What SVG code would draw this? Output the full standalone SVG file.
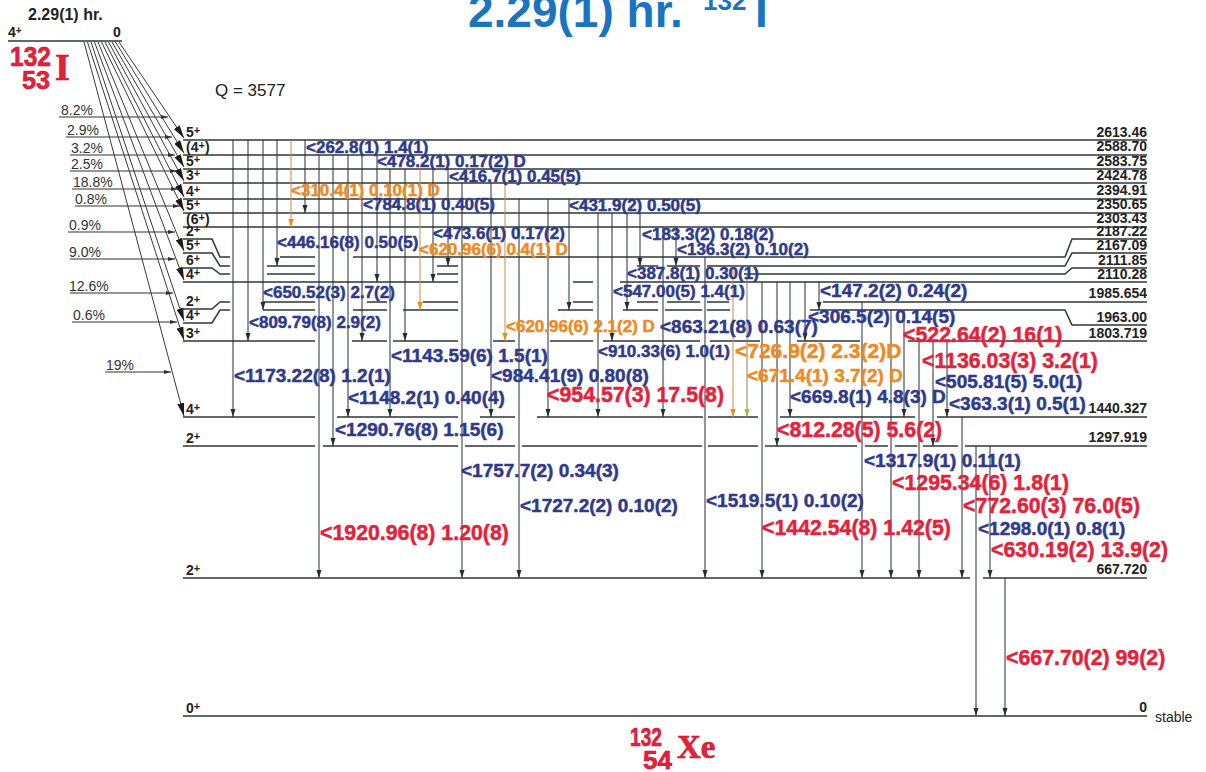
<svg xmlns="http://www.w3.org/2000/svg" width="1206" height="772" viewBox="0 0 1206 772">
<defs>
<style>
.lv{stroke:#2b3838;stroke-width:1.5;fill:none}
.g{stroke:#243030;stroke-width:1;marker-end:url(#ah)}
.go{stroke:#c98a4a;stroke-width:1;marker-end:url(#aho)}
.gg{stroke:#8a8060;stroke-width:1;marker-end:url(#ahg)}
.bt{stroke:#222;stroke-width:0.9;marker-end:url(#bh)}
.pa{stroke:#333;stroke-width:1.1;marker-end:url(#ph)}
.t{font-family:"Liberation Sans",Arial,sans-serif;font-weight:bold;stroke-width:0.5px;stroke-linejoin:round}
.bl{fill:#303a8a;stroke:#303a8a;font-size:17px}
.bl19{fill:#303a8a;stroke:#303a8a;font-size:19px}
.or{fill:#ee8a1f;stroke:#ee8a1f;font-size:17px}
.or19{fill:#ee8a1f;stroke:#ee8a1f;font-size:19px}
.or21{fill:#ee8a1f;stroke:#ee8a1f;font-size:21px}
.rd{fill:#e3223c;stroke:#e3223c;font-size:21.3px}
.en{font-family:"Liberation Sans",Arial,sans-serif;font-weight:bold;font-size:14px;fill:#222;text-anchor:end}
.sp{font-family:"Liberation Sans",Arial,sans-serif;font-weight:bold;font-size:14px;fill:#222}
.pc{font-family:"Liberation Sans",Arial,sans-serif;font-size:14px;fill:#333}
.nuc{font-family:"Liberation Sans",Arial,sans-serif;font-weight:bold;fill:#e3223c;stroke:#c8102e;stroke-width:0.6px}
.nucs{font-family:"Liberation Serif","Times New Roman",serif;font-weight:bold;fill:#e3223c;stroke:#c8102e;stroke-width:0.6px}
</style>
<marker id="ah" markerUnits="userSpaceOnUse" viewBox="0 0 8 6" markerWidth="8" markerHeight="6" refX="8" refY="3" orient="auto"><path d="M0,0.5 L8,3 L0,5.5 z" fill="#243030"/></marker>
<marker id="aho" markerUnits="userSpaceOnUse" viewBox="0 0 8 6" markerWidth="8" markerHeight="6" refX="8" refY="3" orient="auto"><path d="M0,0.3 L8,3 L0,5.7 z" fill="#f08a1a"/></marker>
<marker id="ahg" markerUnits="userSpaceOnUse" viewBox="0 0 8 6" markerWidth="8" markerHeight="6" refX="8" refY="3" orient="auto"><path d="M0,0.3 L8,3 L0,5.7 z" fill="#8dc63f"/></marker>
<marker id="bh" markerUnits="userSpaceOnUse" viewBox="0 0 13 7" markerWidth="13" markerHeight="7" refX="13" refY="3.5" orient="auto"><path d="M0,0 L13,3.5 L0,7 z" fill="#1a1a1a"/></marker>
<marker id="ph" markerUnits="userSpaceOnUse" viewBox="0 0 7 4" markerWidth="7" markerHeight="4" refX="7" refY="2" orient="auto"><path d="M0,0 L7,2 L0,4 z" fill="#333"/></marker>
</defs>
<rect width="1206" height="772" fill="#fff"/>

<g id="title">
<text x="468" y="27" font-family="Liberation Sans,Arial,sans-serif" font-weight="bold" font-size="46" fill="#1b74bf">2.29(1) hr.</text>
<text x="703" y="10" font-family="Liberation Sans,Arial,sans-serif" font-weight="bold" font-size="26" fill="#1b74bf">132</text>
<text x="755" y="27" font-family="Liberation Sans,Arial,sans-serif" font-weight="bold" font-size="46" fill="#1b74bf">I</text>
</g>

<g id="parent">
<text x="28" y="20" font-family="Liberation Sans,Arial,sans-serif" font-weight="bold" font-size="16" fill="#222">2.29(1) hr.</text>
<text x="8" y="37" class="sp" font-size="13">4<tspan font-size="10" dy="-3">+</tspan></text>
<text x="113" y="37" class="sp" font-size="13">0</text>
<path d="M8,41 H122" class="lv"/>
<text x="10" y="66" class="nuc" font-size="27" textLength="41" lengthAdjust="spacingAndGlyphs">132</text>
<text x="22" y="89" class="nuc" font-size="26" textLength="28" lengthAdjust="spacingAndGlyphs">53</text>
<text x="55" y="80" class="nucs" font-size="38">I</text>
<text x="215" y="96" font-family="Liberation Sans,Arial,sans-serif" font-size="17" fill="#222">Q = 3577</text>
</g>

<g id="beta-feeding">
<line x1="84" y1="42" x2="184" y2="416" class="bt"/>
<line x1="87.5" y1="42" x2="184" y2="340" class="bt"/>
<line x1="91" y1="42" x2="184" y2="321" class="bt"/>
<line x1="94.5" y1="42" x2="184" y2="280" class="bt"/>
<line x1="98" y1="42" x2="184" y2="251" class="bt"/>
<line x1="101.5" y1="42" x2="184" y2="211" class="bt"/>
<line x1="105" y1="42" x2="184" y2="197" class="bt"/>
<line x1="108.5" y1="42" x2="184" y2="181" class="bt"/>
<line x1="112" y1="42" x2="184" y2="167" class="bt"/>
<line x1="115.5" y1="42" x2="184" y2="153" class="bt"/>
<line x1="119" y1="42" x2="184" y2="138" class="bt"/>
<line x1="59" y1="117" x2="168" y2="117" class="pa"/>
<line x1="66" y1="137" x2="172" y2="137" class="pa"/>
<line x1="70" y1="155" x2="175" y2="155" class="pa"/>
<line x1="70" y1="171" x2="177" y2="171" class="pa"/>
<line x1="72" y1="189" x2="178" y2="189" class="pa"/>
<line x1="75" y1="206" x2="180" y2="206" class="pa"/>
<line x1="68" y1="232" x2="175" y2="232" class="pa"/>
<line x1="70" y1="259" x2="175" y2="259" class="pa"/>
<line x1="70" y1="293" x2="173" y2="293" class="pa"/>
<line x1="72" y1="322" x2="177" y2="322" class="pa"/>
<line x1="105" y1="372" x2="171" y2="372" class="pa"/>
<text x="61" y="115" class="pc">8.2%</text>
<text x="67" y="135" class="pc">2.9%</text>
<text x="71" y="153" class="pc">3.2%</text>
<text x="71" y="169" class="pc">2.5%</text>
<text x="73" y="187" class="pc">18.8%</text>
<text x="75" y="204" class="pc">0.8%</text>
<text x="69" y="230" class="pc">0.9%</text>
<text x="69" y="257" class="pc">9.0%</text>
<text x="69" y="291" class="pc">12.6%</text>
<text x="73" y="320" class="pc">0.6%</text>
<text x="106" y="370" class="pc">19%</text>
</g>

<g id="levels">
<g id="lvl-2613"><path class="lv" d="M183,140 H1147"/><text class="sp" x="186" y="137">5<tspan font-size="11" dy="-3">+</tspan></text><text class="en" x="1147" y="137">2613.46</text></g>
<g id="lvl-2588"><path class="lv" d="M183,155 H1147"/><text class="sp" x="186" y="152">(4<tspan font-size="11" dy="-3">+</tspan><tspan dy="3">)</tspan></text><text class="en" x="1147" y="151">2588.70</text></g>
<g id="lvl-2583"><path class="lv" d="M183,169 H1147"/><text class="sp" x="186" y="166">5<tspan font-size="11" dy="-3">+</tspan></text><text class="en" x="1147" y="166">2583.75</text></g>
<g id="lvl-2424"><path class="lv" d="M183,183 H1147"/><text class="sp" x="186" y="180">3<tspan font-size="11" dy="-3">+</tspan></text><text class="en" x="1147" y="180">2424.78</text></g>
<g id="lvl-2394"><path class="lv" d="M183,199 H1147"/><text class="sp" x="186" y="196">4<tspan font-size="11" dy="-3">+</tspan></text><text class="en" x="1147" y="195">2394.91</text></g>
<g id="lvl-2350"><path class="lv" d="M183,213 H1147"/><text class="sp" x="186" y="210">5<tspan font-size="11" dy="-3">+</tspan></text><text class="en" x="1147" y="209">2350.65</text></g>
<g id="lvl-2303"><path class="lv" d="M183,227 H1147"/><text class="sp" x="186" y="224">(6<tspan font-size="11" dy="-3">+</tspan><tspan dy="3">)</tspan></text><text class="en" x="1147" y="223">2303.43</text></g>
<g id="lvl-2187"><path class="lv" d="M183,239 H212 L220,257 H230 M280,257 H315 M353,257 H1065 L1072,239 H1147"/><text class="sp" x="186" y="236">2<tspan font-size="11" dy="-3">+</tspan></text><text class="en" x="1147" y="236">2187.22</text></g>
<g id="lvl-2167"><path class="lv" d="M183,253 H212 L220,266 H230 M267,266 H315 M437,266 H458 M637,266 H658 M667,266 H700 M707,266 H1065 L1072,253 H1147"/><text class="sp" x="186" y="250">5<tspan font-size="11" dy="-3">+</tspan></text><text class="en" x="1147" y="250">2167.09</text></g>
<g id="lvl-2111"><path class="lv" d="M183,268 H212 L220,274 H230 M267,274 H315 M437,274 H458 M744,274 H1065 L1072,268 H1147"/><text class="sp" x="186" y="265">6<tspan font-size="11" dy="-3">+</tspan></text><text class="en" x="1147" y="265">2111.85</text></g>
<g id="lvl-2110"><path class="lv" d="M183,282 H458 M573,282 H593 M620,282 H1147"/><text class="sp" x="186" y="279">4<tspan font-size="11" dy="-3">+</tspan></text><text class="en" x="1147" y="279">2110.28</text></g>
<g id="lvl-1985"><path class="lv" d="M183,309 H212 L220,302 H230 M263,302 H315 M367,302 H387 M423,302 H458 M573,302 H593 M637,302 H658 M667,302 H700 M707,302 H729 M823,302 H1147"/><text class="sp" x="186" y="306">2<tspan font-size="11" dy="-3">+</tspan></text><text class="en" x="1147" y="298">1985.654</text></g>
<g id="lvl-1963"><path class="lv" d="M183,323 H212 L220,310 H230 M263,310 H315 M353,310 H387 M403,310 H458 M558,310 H593 M623,310 H658 M665,310 H702 M707,310 H730 M810,310 H1065 L1072,325 H1147"/><text class="sp" x="186" y="320">4<tspan font-size="11" dy="-3">+</tspan></text><text class="en" x="1147" y="322">1963.00</text></g>
<g id="lvl-1803"><path class="lv" d="M183,341 H315 M352,341 H387 M393,341 H458 M493,341 H515 M550,341 H593 M603,341 H700 M710,341 H760 M797,341 H860 M908,341 H1147"/><text class="sp" x="186" y="338">3<tspan font-size="11" dy="-3">+</tspan></text><text class="en" x="1147" y="338">1803.719</text></g>
<g id="lvl-1440"><path class="lv" d="M183,417 H315 M337,417 H458 M480,417 H515 M537,417 H703 M708,417 H758 M780,417 H915 M937,417 H1147"/><text class="sp" x="186" y="414">4<tspan font-size="11" dy="-3">+</tspan></text><text class="en" x="1147" y="413">1440.327</text></g>
<g id="lvl-1297"><path class="lv" d="M183,446 H315 M323,446 H458 M465,446 H515 M522,446 H702 M708,446 H758 M765,446 H857 M865,446 H888 M895,446 H917 M923,446 H958 M965,446 H1147"/><text class="sp" x="186" y="443">2<tspan font-size="11" dy="-3">+</tspan></text><text class="en" x="1147" y="442">1297.919</text></g>
<g id="lvl-667"><path class="lv" d="M183,578 H970 M983,578 H1147"/><text class="sp" x="186" y="575">2<tspan font-size="11" dy="-3">+</tspan></text><text class="en" x="1147" y="574">667.720</text></g>
<g id="lvl-0"><path class="lv" d="M183,716 H1147"/><text class="sp" x="186" y="713">0<tspan font-size="11" dy="-3">+</tspan></text><text class="en" x="1147" y="712">0</text><text x="1155" y="722" font-family="Liberation Sans,Arial,sans-serif" font-size="14" fill="#222">stable</text></g>
</g>

<g id="transitions">
<line class="g" x1="233" y1="140" x2="233" y2="417"/>
<line class="g" x1="248" y1="140" x2="248" y2="341"/>
<line class="g" x1="263" y1="140" x2="263" y2="310"/>
<line class="g" x1="277" y1="140" x2="277" y2="266"/>
<line class="go" x1="291" y1="140" x2="291" y2="227"/>
<line class="g" x1="305" y1="140" x2="305" y2="213"/>
<line class="g" x1="319" y1="155" x2="319" y2="578"/>
<line class="g" x1="333" y1="155" x2="333" y2="446"/>
<line class="g" x1="348" y1="155" x2="348" y2="417"/>
<line class="g" x1="362" y1="155" x2="362" y2="341"/>
<line class="g" x1="377" y1="155" x2="377" y2="282"/>
<line class="g" x1="390" y1="169" x2="390" y2="417"/>
<line class="g" x1="405" y1="169" x2="405" y2="341"/>
<line class="go" x1="420" y1="169" x2="420" y2="310"/>
<line class="g" x1="433" y1="169" x2="433" y2="282"/>
<line class="g" x1="448" y1="169" x2="448" y2="266"/>
<line class="g" x1="462" y1="183" x2="462" y2="578"/>
<line class="g" x1="491" y1="183" x2="491" y2="417"/>
<line class="go" x1="505" y1="183" x2="505" y2="341"/>
<line class="g" x1="519" y1="199" x2="519" y2="578"/>
<line class="g" x1="548" y1="199" x2="548" y2="417"/>
<line class="g" x1="569" y1="199" x2="569" y2="310"/>
<line class="g" x1="598" y1="213" x2="598" y2="417"/>
<line class="g" x1="612" y1="213" x2="612" y2="341"/>
<line class="g" x1="627" y1="213" x2="627" y2="310"/>
<line class="g" x1="640" y1="213" x2="640" y2="266"/>
<line class="g" x1="663" y1="227" x2="663" y2="417"/>
<line class="g" x1="676" y1="227" x2="676" y2="266"/>
<line class="g" x1="705" y1="257" x2="705" y2="578"/>
<line class="go" x1="733" y1="266" x2="733" y2="417"/>
<line class="gg" x1="747" y1="274" x2="747" y2="417"/>
<line class="g" x1="762" y1="282" x2="762" y2="578"/>
<line class="g" x1="777" y1="282" x2="777" y2="446"/>
<line class="g" x1="790" y1="282" x2="790" y2="417"/>
<line class="g" x1="805" y1="282" x2="805" y2="341"/>
<line class="g" x1="819" y1="282" x2="819" y2="310"/>
<line class="g" x1="862" y1="302" x2="862" y2="578"/>
<line class="g" x1="891" y1="310" x2="891" y2="578"/>
<line class="g" x1="904" y1="310" x2="904" y2="417"/>
<line class="g" x1="919" y1="341" x2="919" y2="578"/>
<line class="g" x1="933" y1="341" x2="933" y2="446"/>
<line class="g" x1="947" y1="341" x2="947" y2="417"/>
<line class="g" x1="962" y1="417" x2="962" y2="578"/>
<line class="g" x1="976" y1="446" x2="976" y2="716"/>
<line class="g" x1="990" y1="446" x2="990" y2="578"/>
<line class="g" x1="1005" y1="578" x2="1005" y2="716"/>
</g>

<g id="gamma-labels">
<text class="t bl" x="306" y="153">&lt;262.8(1) 1.4(1)</text>
<text class="t bl" x="377" y="167">&lt;478.2(1) 0.17(2) D</text>
<text class="t bl" x="449" y="182">&lt;416.7(1) 0.45(5)</text>
<text class="t or" x="291" y="196">&lt;310.4(1) 0.10(1) D</text>
<text class="t bl" x="363" y="210">&lt;784.8(1) 0.40(5)</text>
<text class="t bl" x="569" y="211">&lt;431.9(2) 0.50(5)</text>
<text class="t bl" x="433" y="239">&lt;473.6(1) 0.17(2)</text>
<text class="t bl" x="642" y="240">&lt;183.3(2) 0.18(2)</text>
<text class="t bl" x="277" y="248">&lt;446.16(8) 0.50(5)</text>
<text class="t or" x="419" y="255">&lt;620.96(6) 0.4(1) D</text>
<text class="t bl" x="677" y="255">&lt;136.3(2) 0.10(2)</text>
<text class="t bl" x="627" y="279">&lt;387.8(1) 0.30(1)</text>
<text class="t bl" x="613" y="297">&lt;547.00(5) 1.4(1)</text>
<text class="t bl" x="263" y="298">&lt;650.52(3) 2.7(2)</text>
<text class="t bl19" x="820" y="297">&lt;147.2(2) 0.24(2)</text>
<text class="t bl19" x="808" y="323">&lt;306.5(2) 0.14(5)</text>
<text class="t bl" x="249" y="328">&lt;809.79(8) 2.9(2)</text>
<text class="t or" x="506" y="332">&lt;620.96(6) 2.1(2) D</text>
<text class="t bl19" x="660" y="333">&lt;863.21(8) 0.63(7)</text>
<text class="t rd" x="903" y="342">&lt;522.64(2) 16(1)</text>
<text class="t bl" x="598" y="357">&lt;910.33(6) 1.0(1)</text>
<text class="t or21" x="735" y="358">&lt;726.9(2) 2.3(2)D</text>
<text class="t bl19" x="391" y="362">&lt;1143.59(6) 1.5(1)</text>
<text class="t rd" x="922" y="368">&lt;1136.03(3) 3.2(1)</text>
<text class="t bl19" x="234" y="382">&lt;1173.22(8) 1.2(1)</text>
<text class="t bl19" x="491" y="382">&lt;984.41(9) 0.80(8)</text>
<text class="t or19" x="747" y="382">&lt;671.4(1) 3.7(2) D</text>
<text class="t bl19" x="935" y="388">&lt;505.81(5) 5.0(1)</text>
<text class="t rd" x="547" y="402">&lt;954.57(3) 17.5(8)</text>
<text class="t bl19" x="790" y="403">&lt;669.8(1) 4.8(3) D</text>
<text class="t bl19" x="348" y="404">&lt;1148.2(1) 0.40(4)</text>
<text class="t bl19" x="949" y="410">&lt;363.3(1) 0.5(1)</text>
<text class="t bl19" x="335" y="436">&lt;1290.76(8) 1.15(6)</text>
<text class="t rd" x="777" y="437">&lt;812.28(5) 5.6(2)</text>
<text class="t bl19" x="864" y="467">&lt;1317.9(1) 0.11(1)</text>
<text class="t bl19" x="461" y="477">&lt;1757.7(2) 0.34(3)</text>
<text class="t rd" x="892" y="490">&lt;1295.34(6) 1.8(1)</text>
<text class="t bl19" x="706" y="507">&lt;1519.5(1) 0.10(2)</text>
<text class="t bl19" x="520" y="512">&lt;1727.2(2) 0.10(2)</text>
<text class="t rd" x="963" y="513">&lt;772.60(3) 76.0(5)</text>
<text class="t rd" x="762" y="535">&lt;1442.54(8) 1.42(5)</text>
<text class="t bl19" x="978" y="535">&lt;1298.0(1) 0.8(1)</text>
<text class="t rd" x="320" y="540">&lt;1920.96(8) 1.20(8)</text>
<text class="t rd" x="991" y="557">&lt;630.19(2) 13.9(2)</text>
<text class="t rd" x="1006" y="665">&lt;667.70(2) 99(2)</text>
</g>

<g id="daughter">
<text x="630" y="746" class="nuc" font-size="25" textLength="32" lengthAdjust="spacingAndGlyphs">132</text>
<text x="643" y="769" class="nuc" font-size="25" textLength="29" lengthAdjust="spacingAndGlyphs">54</text>
<text x="677" y="758" class="nucs" font-size="33">Xe</text>
</g>
</svg>
